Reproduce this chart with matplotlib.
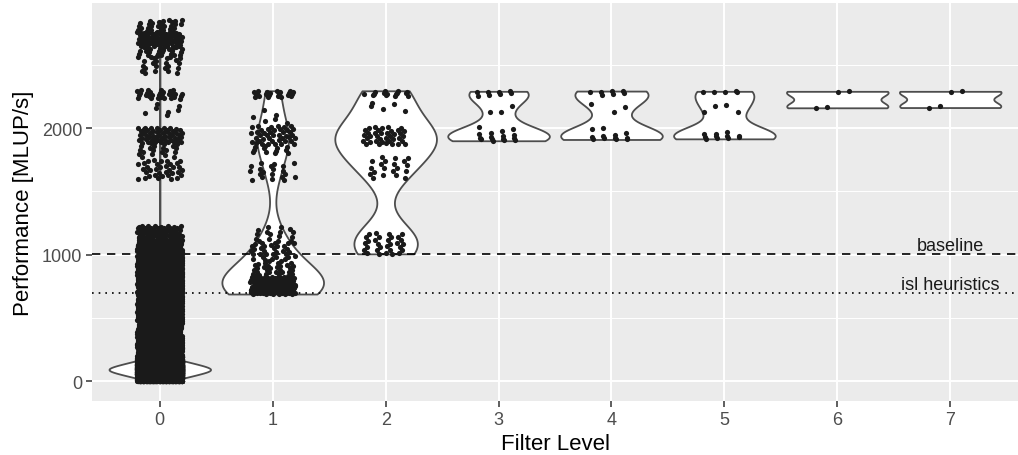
import numpy as np
import matplotlib
matplotlib.use("Agg")
import matplotlib.pyplot as plt

plt.rcParams['font.family'] = ['Liberation Sans', 'DejaVu Sans']

# Filter levels on the x axis
levels = [0, 1, 2, 3, 4, 5, 6, 7]

# Dense levels: points as (low, high, count) bands
lvl0_lo = [0, 20, 40, 60, 80, 100, 120, 140, 160, 180, 200, 220, 330, 480, 1000, 1120,
           1600, 1760, 1880, 2100, 2230, 2420, 2560, 2640, 2760]
lvl0_hi = [20, 40, 60, 80, 100, 120, 140, 160, 180, 200, 220, 330, 480, 1000, 1120, 1230,
           1760, 1880, 2010, 2200, 2300, 2560, 2640, 2760, 2860]
lvl0_n = [390, 650, 915, 1175, 1435, 1305, 1045, 785, 520, 260, 100, 400, 300, 1700, 250, 70,
          35, 20, 55, 7, 32, 20, 25, 80, 30]

lvl1_lo = [690, 760, 830, 950, 1100, 1590, 1790, 1860, 2030, 2240]
lvl1_hi = [760, 830, 950, 1100, 1230, 1740, 1860, 2020, 2150, 2300]
lvl1_n = [110, 55, 32, 32, 16, 20, 12, 42, 6, 22]

lvl2_lo = [990, 1590, 1870, 2110, 2245]
lvl2_hi = [1170, 1780, 2020, 2200, 2295]
lvl2_n = [30, 20, 38, 5, 15]

# Sparse levels: individual points
lvl3 = [2290, 2288, 2285, 2282, 2278, 2270, 2262, 2255,
        2175, 2130, 2125,
        2005, 1990, 1975, 1960, 1950, 1945, 1935, 1930, 1925, 1920, 1915, 1912,
        1910, 1905, 1902, 1900]
lvl4 = [2292, 2290, 2287, 2284, 2278, 2270, 2262,
        2190, 2170, 2127,
        2000, 1990, 1960, 1945, 1935, 1928, 1925, 1920, 1918, 1915, 1912, 1910]
lvl5 = [2290, 2288, 2286, 2285, 2284, 2180, 2174, 2130, 2127,
        1968, 1953, 1950, 1940, 1937, 1935, 1932, 1929, 1925, 1920, 1915]
lvl6 = [2290, 2285, 2170, 2160]
lvl7 = [2290, 2286, 2172, 2162]

# Reference lines
baseline = 1006
isl_heuristics = 696

A1, A2 = 0.7548776662, 0.5698402910   # R2 low-discrepancy steps for jitter


def expand_bands(lo, hi, n):
    # spread each band's points over its range
    ys = []
    start = 1
    for l, h, k in zip(lo, hi, n):
        idx = np.arange(start, start + k)
        ys.append(l + (h - l) * ((idx * A2) % 1.0))
        start += k
    return np.concatenate(ys)


def nrd0(y):
    n = len(y)
    sd = np.std(y, ddof=1)
    q75, q25 = np.percentile(y, [75, 25])
    lo = min(sd, (q75 - q25) / 1.34) if q75 > q25 else sd
    return 0.9 * lo * n ** -0.2


def violin(y):
    grid = np.linspace(y.min(), y.max(), 512)
    bw = nrd0(y)
    dens = np.zeros_like(grid)
    for chunk in np.array_split(y, max(1, len(y) // 2000)):
        dens += np.exp(-0.5 * ((grid[:, None] - chunk[None, :]) / bw) ** 2).sum(1)
    return grid, dens / dens.max()


data = [expand_bands(lvl0_lo, lvl0_hi, lvl0_n),
        expand_bands(lvl1_lo, lvl1_hi, lvl1_n),
        expand_bands(lvl2_lo, lvl2_hi, lvl2_n),
        np.array(lvl3, float), np.array(lvl4, float), np.array(lvl5, float),
        np.array(lvl6, float), np.array(lvl7, float)]

fig = plt.figure(figsize=(10.18, 4.56), dpi=100)
ax = fig.add_axes([0.0904, 0.1184, 0.9096, 0.8728])
ax.set_facecolor('#EBEBEB')

# Violins
for lv, y in zip(levels, data):
    grid, d = violin(y)
    ax.fill_betweenx(grid, lv - 0.45 * d, lv + 0.45 * d, facecolor='white',
                     edgecolor='#4D4D4D', linewidth=1.3, zorder=2)

# Reference lines
ax.axhline(baseline, color='black', linewidth=1.2, linestyle=(0, (5, 4)), zorder=3)
ax.axhline(isl_heuristics, color='black', linewidth=1.2, linestyle=(0, (1, 3)), zorder=3)
ax.text(7, baseline, 'baseline', ha='center', va='bottom', fontsize=13, color='#1A1A1A', zorder=5)
ax.text(7, isl_heuristics, 'isl heuristics', ha='center', va='bottom', fontsize=13,
        color='#1A1A1A', zorder=5)

# Jittered points
for lv, y in zip(levels, data):
    idx = np.arange(1, len(y) + 1)
    xj = lv - 0.2 + 0.4 * ((idx * A1) % 1.0)
    ax.scatter(xj, y, s=14, color='#1A1A1A', linewidths=0, zorder=4)

ax.set_xlim(-0.6, 7.6)
ax.set_ylim(-154, 2987)
ax.set_xticks(levels)
ax.set_xticklabels([str(l) for l in levels])
ax.set_yticks([0, 1000, 2000])
ax.set_yticks([500, 1500, 2500], minor=True)
ax.grid(which='major', color='white', linewidth=1.4, zorder=0)
ax.grid(which='minor', axis='y', color='white', linewidth=0.7, zorder=0)
ax.set_axisbelow(True)
for s in ax.spines.values():
    s.set_visible(False)
ax.tick_params(axis='both', which='major', length=4, width=1.1, color='#333333',
               labelsize=13, labelcolor='#4D4D4D', pad=3)
ax.tick_params(axis='y', which='minor', length=0)

ax.set_xlabel('Filter Level', fontsize=16, labelpad=4)
ax.set_ylabel('Performance [MLUP/s]', fontsize=16, labelpad=6)

fig.savefig('out.png', dpi=100)
